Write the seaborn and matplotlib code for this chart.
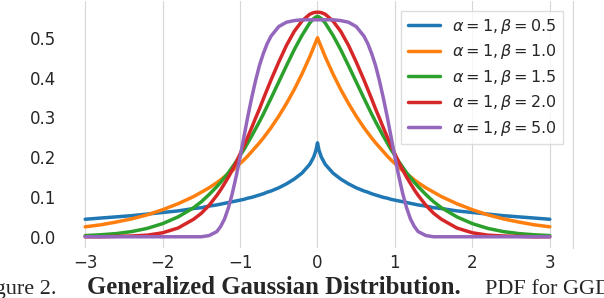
import pandas as pd
import matplotlib
matplotlib.use("Agg")
import matplotlib.pyplot as plt
import seaborn as sns

# x positions (shared by all curves)
x_vals = [-3.0, -2.8, -2.6, -2.4, -2.2, -2.0, -1.8, -1.6, -1.5, -1.4, -1.3,
          -1.25, -1.2, -1.15, -1.1, -1.05, -1.0, -0.95, -0.9, -0.85, -0.8,
          -0.75, -0.7, -0.65, -0.6, -0.5, -0.4, -0.3, -0.2, -0.1, -0.05, -0.02,
          0.0,
          0.02, 0.05, 0.1, 0.2, 0.3, 0.4, 0.5, 0.6, 0.65, 0.7, 0.75, 0.8, 0.85,
          0.9, 0.95, 1.0, 1.05, 1.1, 1.15, 1.2, 1.25, 1.3, 1.4, 1.5, 1.6, 1.8,
          2.0, 2.2, 2.4, 2.6, 2.8, 3.0]

# pdf values, one list per curve
pdf_b05 = [0.044, 0.047, 0.050, 0.053, 0.057, 0.061, 0.065, 0.071, 0.073, 0.077, 0.080,
           0.082, 0.084, 0.086, 0.088, 0.090, 0.092, 0.094, 0.097, 0.099, 0.102,
           0.105, 0.108, 0.112, 0.115, 0.123, 0.133, 0.145, 0.160, 0.182, 0.200, 0.217,
           0.236,
           0.217, 0.200, 0.182, 0.160, 0.145, 0.133, 0.123, 0.115, 0.112, 0.108, 0.105, 0.102, 0.099,
           0.097, 0.094, 0.092, 0.090, 0.088, 0.086, 0.084, 0.082, 0.080, 0.077, 0.073, 0.071, 0.065,
           0.061, 0.057, 0.053, 0.050, 0.047, 0.044]
pdf_b10 = [0.025, 0.030, 0.037, 0.045, 0.055, 0.068, 0.083, 0.101, 0.112, 0.123, 0.136,
           0.143, 0.151, 0.158, 0.166, 0.175, 0.184, 0.193, 0.203, 0.214, 0.225,
           0.236, 0.248, 0.261, 0.274, 0.303, 0.335, 0.370, 0.409, 0.452, 0.476, 0.490,
           0.500,
           0.490, 0.476, 0.452, 0.409, 0.370, 0.335, 0.303, 0.274, 0.261, 0.248, 0.236, 0.225, 0.214,
           0.203, 0.193, 0.184, 0.175, 0.166, 0.158, 0.151, 0.143, 0.136, 0.123, 0.112, 0.101, 0.083,
           0.068, 0.055, 0.045, 0.037, 0.030, 0.025]
pdf_b15 = [0.003, 0.005, 0.008, 0.013, 0.021, 0.033, 0.050, 0.073, 0.088, 0.106, 0.126,
           0.137, 0.149, 0.161, 0.175, 0.189, 0.204, 0.219, 0.236, 0.253, 0.271,
           0.289, 0.308, 0.328, 0.348, 0.389, 0.430, 0.470, 0.506, 0.537, 0.548, 0.552,
           0.554,
           0.552, 0.548, 0.537, 0.506, 0.470, 0.430, 0.389, 0.348, 0.328, 0.308, 0.289, 0.271, 0.253,
           0.236, 0.219, 0.204, 0.189, 0.175, 0.161, 0.149, 0.137, 0.126, 0.106, 0.088, 0.073, 0.050,
           0.033, 0.021, 0.013, 0.008, 0.005, 0.003]
pdf_b20 = [0.000, 0.000, 0.001, 0.002, 0.004, 0.010, 0.022, 0.044, 0.059, 0.079, 0.104,
           0.118, 0.134, 0.150, 0.168, 0.187, 0.208, 0.229, 0.251, 0.274, 0.298,
           0.321, 0.346, 0.370, 0.394, 0.439, 0.481, 0.516, 0.542, 0.559, 0.563, 0.564,
           0.564,
           0.564, 0.563, 0.559, 0.542, 0.516, 0.481, 0.439, 0.394, 0.370, 0.346, 0.321, 0.298, 0.274,
           0.251, 0.229, 0.208, 0.187, 0.168, 0.150, 0.134, 0.118, 0.104, 0.079, 0.059, 0.044, 0.022,
           0.010, 0.004, 0.002, 0.001, 0.000, 0.000]
pdf_b50 = [0.000, 0.000, 0.000, 0.000, 0.000, 0.000, 0.000, 0.000, 0.000, 0.003, 0.013,
           0.026, 0.045, 0.073, 0.109, 0.152, 0.200, 0.251, 0.302, 0.349, 0.392,
           0.430, 0.460, 0.485, 0.504, 0.528, 0.539, 0.543, 0.545, 0.545, 0.545, 0.545,
           0.545,
           0.545, 0.545, 0.545, 0.545, 0.543, 0.539, 0.528, 0.504, 0.485, 0.460, 0.430, 0.392, 0.349,
           0.302, 0.251, 0.200, 0.152, 0.109, 0.073, 0.045, 0.026, 0.013, 0.003, 0.000, 0.000, 0.000,
           0.000, 0.000, 0.000, 0.000, 0.000, 0.000]

labels = [r"$\alpha=1, \beta=0.5$", r"$\alpha=1, \beta=1.0$", r"$\alpha=1, \beta=1.5$",
          r"$\alpha=1, \beta=2.0$", r"$\alpha=1, \beta=5.0$"]
curves = [pdf_b05, pdf_b10, pdf_b15, pdf_b20, pdf_b50]

# long format for seaborn
frames = []
for lab, ys in zip(labels, curves):
    frames.append(pd.DataFrame({"x": x_vals, "pdf": ys, "curve": lab}))
df = pd.concat(frames, ignore_index=True)

sns.set_style("whitegrid")
plt.rcParams["font.family"] = ["DejaVu Sans"]

fig = plt.figure(figsize=(6.04, 2.98), dpi=100)
ax = fig.add_axes([0.1026, 0.1678, 0.8461, 0.8288])

sns.lineplot(data=df, x="x", y="pdf", hue="curve", hue_order=labels,
             palette=sns.color_palette("tab10", 5), linewidth=2.5,
             estimator=None, sort=False, ax=ax)

ax.set_xlabel("")
ax.set_ylabel("")
ax.yaxis.grid(False)
ax.xaxis.grid(True, color="#d6d6d6", linewidth=0.8)
for side in ["left", "bottom", "top"]:
    ax.spines[side].set_visible(False)
ax.spines["right"].set_color("#d6d6d6")
ax.tick_params(labelsize=12, colors="#262626", length=0, pad=4)

handles, labs = ax.get_legend_handles_labels()
leg = ax.legend(handles, labs, loc="upper right", fontsize=11.5, frameon=True,
                edgecolor="#d6d6d6", fancybox=False, labelspacing=0.4,
                borderaxespad=0.6)
for h in leg.legend_handles:
    h.set_linewidth(2.5)
for t in leg.get_texts():
    t.set_color("#262626")

# caption, cut off by the crop as in the source
serif = ["Liberation Serif", "DejaVu Serif"]
fig.text(57 / 604, 0.012, "Figure 2.", ha="right", va="baseline",
         fontsize=16, family=serif)
fig.text(87 / 604, 0.012, "Generalized Gaussian Distribution.", ha="left",
         va="baseline", fontsize=17.8, family=serif, fontweight="bold")
fig.text(485 / 604, 0.012, "PDF for GGD", ha="left", va="baseline",
         fontsize=16, family=serif)

plt.savefig("out.png", dpi=100)
plt.close()
